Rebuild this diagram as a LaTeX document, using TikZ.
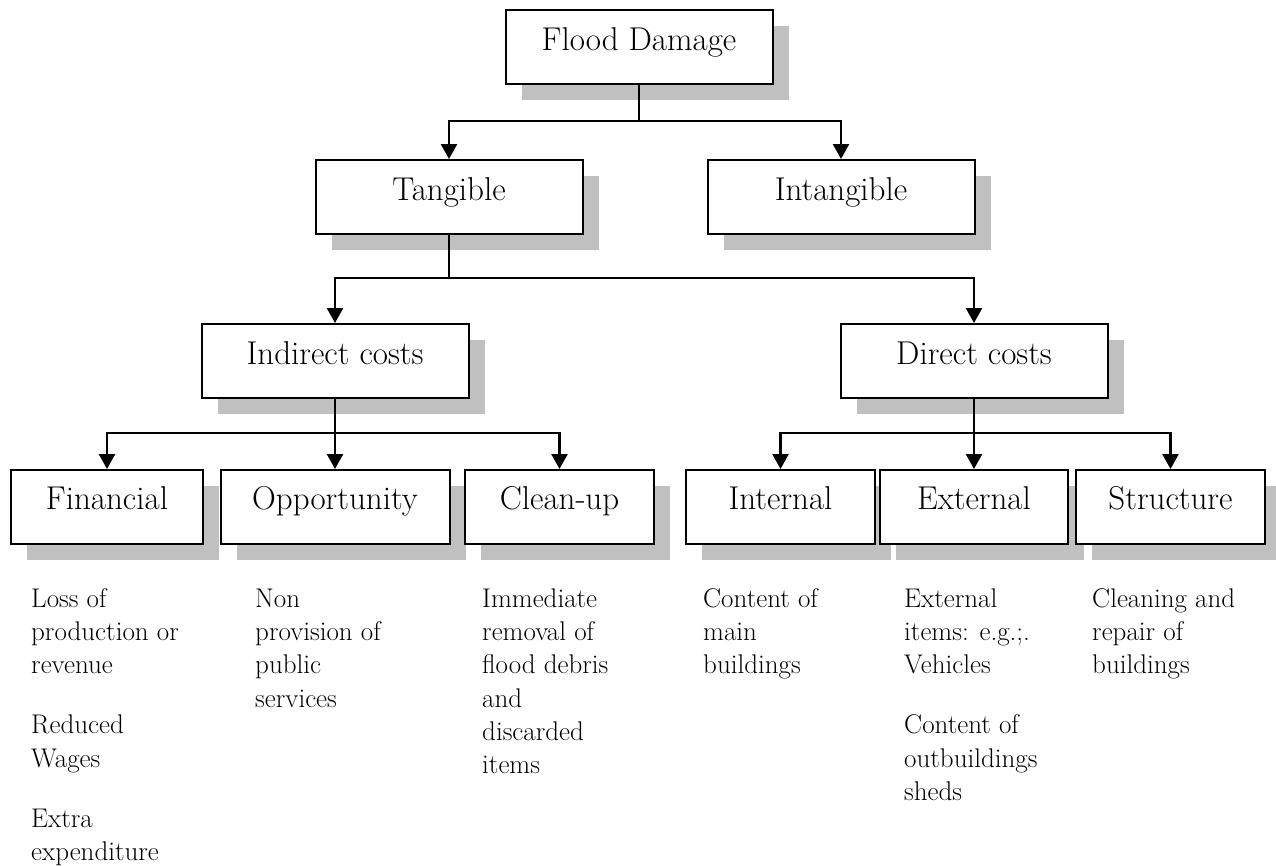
\documentclass[tikz,border=0pt]{standalone}
\usetikzlibrary{arrows.meta,shadows}
\definecolor{shadegray}{RGB}{192,192,192}
\begin{document}
\begin{tikzpicture}[x=1pt,y=-1pt,
  box/.style={draw, line width=2pt, fill=white, inner xsep=0pt, inner ysep=0pt,
    anchor=north, font=\fontsize{33}{40}\selectfont,
    general shadow={fill=shadegray, shadow xshift=16pt, shadow yshift=-16pt}},
  upper/.style={box, minimum width=267pt, text height=40pt, text depth=34pt},
  lower/.style={box, text height=39pt, text depth=35pt},
  link/.style={line width=2.5pt},
  arr/.style={link, -{Triangle[length=15pt,width=16pt]}},
  note/.style={anchor=north west, inner sep=0pt, align=left,
    font=\fontsize{27}{33.3}\selectfont}]
\useasboundingbox (0,0) rectangle (1276,865);

% boxes
\node[upper] (flood)    at (639,9)   {Flood Damage};
\node[upper] (tang)     at (449,159) {Tangible};
\node[upper] (intang)   at (841,159) {Intangible};
\node[upper] (indirect) at (335,323) {Indirect costs};
\node[upper] (direct)   at (974,323) {Direct costs};

\node[lower, minimum width=192pt] (fin)    at (107,469)    {Financial};
\node[lower, minimum width=229pt] (opp)    at (335,469)    {Opportunity};
\node[lower, minimum width=189pt] (clean)  at (559.5,469)  {Clean-up};
\node[lower, minimum width=189pt] (int)    at (780.5,469)  {Internal};
\node[lower, minimum width=188pt] (ext)    at (974,469)    {External};
\node[lower, minimum width=189pt] (struct) at (1170.5,469) {Structure};

% connectors
\coordinate (j1) at (639,121);
\draw[link] (flood.south) -- (j1);
\draw[arr] (j1) -| (tang.north);
\draw[arr] (j1) -| (intang.north);

\coordinate (j2) at (449,278);
\draw[link] (tang.south) -- (j2);
\draw[arr] (j2) -| (indirect.north);
\draw[arr] (j2) -| (direct.north);

\coordinate (j3) at (335,433);
\draw[link] (indirect.south) -- (j3);
\draw[arr] (j3) -| (fin.north);
\draw[arr] (j3) -- (opp.north);
\draw[arr] (j3) -| (clean.north);

\coordinate (j4) at (974,433);
\draw[link] (direct.south) -- (j4);
\draw[arr] (j4) -| (int.north);
\draw[arr] (j4) -- (ext.north);
\draw[arr] (j4) -| (struct.north);

% descriptions (first baseline at y = 607)
\node[note] (finnote) at (31,583.7)
  {\strut Loss of\\production or\\revenue\\[26.7pt]Reduced\\Wages\\[26.7pt]Extra\\expenditure};
\node[note] (oppnote) at (255,583.7)
  {\strut Non\\provision of\\public\\services};
\node[note] (cleannote) at (482,583.7)
  {\strut Immediate\\removal of\\flood debris\\and\\discarded\\items};
\node[note] (intnote) at (703,583.7)
  {\strut Content of\\main\\buildings};
\node[note] (extnote) at (904,583.7)
  {\strut External\\items: e.g.;.\\Vehicles\\[26.7pt]Content of\\outbuildings\\sheds};
\node[note] (structnote) at (1092,583.7)
  {\strut Cleaning and\\repair of\\buildings};
\end{tikzpicture}
\end{document}
